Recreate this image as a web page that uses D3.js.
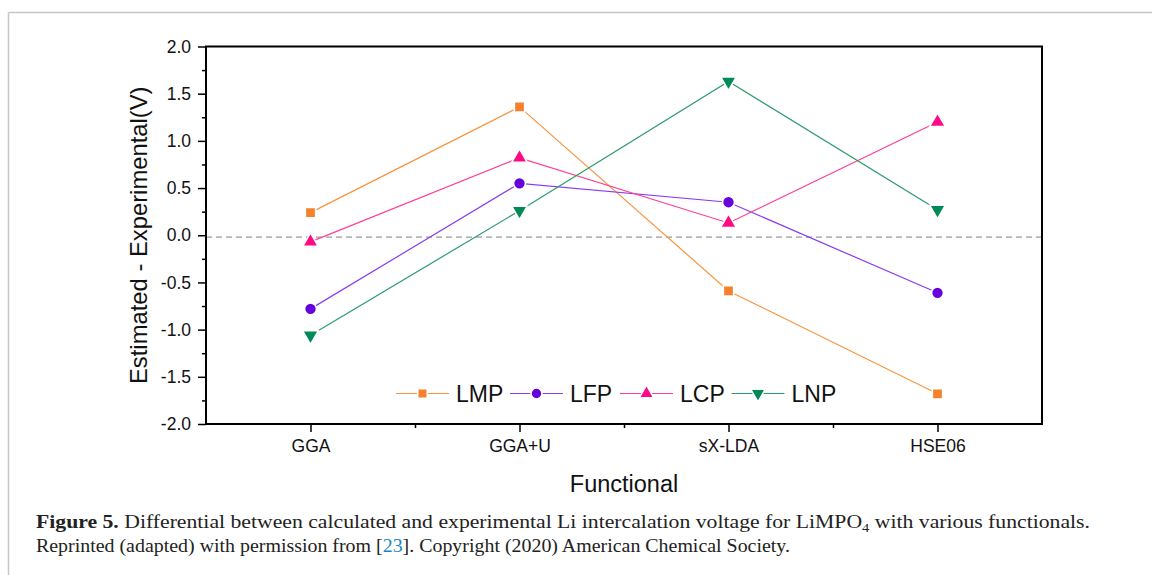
<!DOCTYPE html>
<html>
<head>
<meta charset="utf-8">
<script src="https://cdn.jsdelivr.net/npm/d3@7"></script>
<style>
  html, body { margin: 0; padding: 0; background: #fff; }
  svg { display: block; }
</style>
</head>
<body>
<svg id="chart" width="1152" height="575"></svg>
<script>
// Functionals on the x axis
const categories = ["GGA", "GGA+U", "sX-LDA", "HSE06"];

// Estimated minus experimental voltage (V) for each olivine phosphate
const seriesNames = ["LMP", "LFP", "LCP", "LNP"];
const lmpValues = [0.24, 1.36, -0.59, -1.68];
const lfpValues = [-0.78, 0.55, 0.35, -0.61];
const lcpValues = [-0.07, 0.82, 0.13, 1.20];
const lnpValues = [-1.06, 0.26, 1.63, 0.27];

const yTicks = [-2.0, -1.5, -1.0, -0.5, 0.0, 0.5, 1.0, 1.5, 2.0];
const yTickLabels = ["-2.0", "-1.5", "-1.0", "-0.5", "0.0", "0.5", "1.0", "1.5", "2.0"];
const yMinorTicks = [-1.75, -1.25, -0.75, -0.25, 0.25, 0.75, 1.25, 1.75];
const referenceLevel = -0.02;

const series = [
  { name: seriesNames[0], values: lmpValues, color: "#f5822a", line: "#f7953f", symbol: d3.symbolSquare, size: 105, rot: 0 },
  { name: seriesNames[1], values: lfpValues, color: "#6600dd", line: "#8a3cf2", symbol: d3.symbolCircle, size: 110, rot: 0 },
  { name: seriesNames[2], values: lcpValues, color: "#ff0a84", line: "#ff3d98", symbol: d3.symbolTriangle, size: 105, rot: 0 },
  { name: seriesNames[3], values: lnpValues, color: "#008a55", line: "#2e9a6c", symbol: d3.symbolTriangle, size: 105, rot: 180 }
];

const svg = d3.select("#chart");
const plotLeft = 206, plotRight = 1042, plotTop = 46.5, plotBottom = 424;

// Page frame lines
svg.append("line").attr("x1", 8.5).attr("x2", 1152).attr("y1", 12.5).attr("y2", 12.5)
  .attr("stroke", "#c6c6c6").attr("stroke-width", 1.5);
svg.append("line").attr("x1", 8.5).attr("x2", 8.5).attr("y1", 12.5).attr("y2", 575)
  .attr("stroke", "#c6c6c6").attr("stroke-width", 1.5);

const x = d3.scaleLinear().domain([0.5, categories.length + 0.5]).range([plotLeft, plotRight]);
const y = d3.scaleLinear().domain([-2, 2]).range([plotBottom, plotTop]);

const font = "Liberation Sans, Arial, sans-serif";

// Reference line
svg.append("line")
  .attr("x1", plotLeft).attr("x2", plotRight)
  .attr("y1", y(referenceLevel)).attr("y2", y(referenceLevel))
  .attr("stroke", "#9a9a9a").attr("stroke-width", 1.3)
  .attr("stroke-dasharray", "6,4");

// Y axis
const yAxis = svg.append("g").attr("transform", `translate(${plotLeft},0)`)
  .call(d3.axisLeft(y).tickValues(yTicks)
    .tickFormat((d, i) => yTickLabels[i]).tickSize(8).tickPadding(7));
yAxis.select(".domain").remove();
yAxis.selectAll(".tick line").attr("stroke", "#000").attr("stroke-width", 1.5);
yAxis.selectAll(".tick text").attr("font-family", font).attr("font-size", 17.5).attr("fill", "#111");
svg.append("g").attr("transform", `translate(${plotLeft},0)`)
  .call(d3.axisLeft(y).tickValues(yMinorTicks).tickFormat("").tickSize(4))
  .call(g => g.select(".domain").remove())
  .selectAll(".tick line").attr("stroke", "#000").attr("stroke-width", 1.5);

// X axis
const xAxis = svg.append("g").attr("transform", `translate(0,${plotBottom})`)
  .call(d3.axisBottom(x).tickValues(d3.range(1, categories.length + 1))
    .tickFormat((d) => categories[d - 1]).tickSize(8).tickPadding(8));
xAxis.select(".domain").remove();
xAxis.selectAll(".tick line").attr("stroke", "#000").attr("stroke-width", 1.5);
xAxis.selectAll(".tick text").attr("font-family", font).attr("font-size", 17.5).attr("fill", "#111");
svg.append("g").attr("transform", `translate(0,${plotBottom})`)
  .call(d3.axisBottom(x).tickValues(d3.range(1.5, categories.length + 0.5, 1)).tickFormat("").tickSize(4))
  .call(g => g.select(".domain").remove())
  .selectAll(".tick line").attr("stroke", "#000").attr("stroke-width", 1.5);

// Plot frame
svg.append("rect")
  .attr("x", plotLeft).attr("y", plotTop)
  .attr("width", plotRight - plotLeft).attr("height", plotBottom - plotTop)
  .attr("fill", "none").attr("stroke", "#000").attr("stroke-width", 2);

// Series lines and markers
const line = d3.line().x((d, i) => x(i + 1)).y((d) => y(d));
series.forEach((s) => {
  svg.append("path").datum(s.values)
    .attr("d", line).attr("fill", "none")
    .attr("stroke", s.line).attr("stroke-width", 1.2);
});
series.forEach((s) => {
  svg.append("g").selectAll("path").data(s.values).join("path")
    .attr("d", d3.symbol().type(s.symbol).size(s.size))
    .attr("transform", (d, i) => `translate(${x(i + 1)},${y(d)}) rotate(${s.rot})`)
    .attr("fill", s.color).attr("stroke", "#fff").attr("stroke-width", 1.5);
});

// Legend
const legendY = 393.5;
const legendStarts = [396, 510, 620, 731.5];
series.forEach((s, i) => {
  const g = svg.append("g").attr("transform", `translate(${legendStarts[i]},${legendY})`);
  g.append("line").attr("x1", 0).attr("x2", 53).attr("y1", 0).attr("y2", 0)
    .attr("stroke", s.line).attr("stroke-width", 1.2);
  g.append("path").attr("d", d3.symbol().type(s.symbol).size(s.size * 0.85))
    .attr("transform", `translate(26.5,0) rotate(${s.rot})`)
    .attr("fill", s.color).attr("stroke", "#fff").attr("stroke-width", 1.5);
  g.append("text").attr("x", 60).attr("y", 8.2)
    .attr("font-family", font).attr("font-size", 23).attr("fill", "#111")
    .text(s.name);
});

// Axis titles
svg.append("text")
  .attr("transform", `translate(147,${(plotTop + plotBottom) / 2}) rotate(-90)`)
  .attr("text-anchor", "middle")
  .attr("font-family", font).attr("font-size", 23.8).attr("fill", "#111")
  .text("Estimated - Experimental(V)");
svg.append("text")
  .attr("x", (plotLeft + plotRight) / 2).attr("y", 492)
  .attr("text-anchor", "middle")
  .attr("font-family", font).attr("font-size", 23.5).attr("fill", "#111")
  .text("Functional");

// Caption
const serif = "Liberation Serif, 'Times New Roman', serif";
const cap1 = svg.append("text").attr("x", 36).attr("y", 528)
  .attr("font-family", serif).attr("font-size", 19.5).attr("fill", "#222")
  .attr("textLength", 1054).attr("lengthAdjust", "spacingAndGlyphs");
cap1.append("tspan").attr("font-weight", "bold").text("Figure 5.");
cap1.append("tspan").text(" Differential between calculated and experimental Li intercalation voltage for LiMPO");
cap1.append("tspan").attr("font-size", 13).attr("dy", 4).text("4");
cap1.append("tspan").attr("dy", -4).text(" with various functionals.");

const cap2 = svg.append("text").attr("x", 36).attr("y", 552)
  .attr("font-family", serif).attr("font-size", 19.5).attr("fill", "#222")
  .attr("textLength", 754).attr("lengthAdjust", "spacingAndGlyphs");
cap2.append("tspan").text("Reprinted (adapted) with permission from [");
cap2.append("tspan").attr("fill", "#1a86c4").text("23");
cap2.append("tspan").text("]. Copyright (2020) American Chemical Society.");
</script>
</body>
</html>
